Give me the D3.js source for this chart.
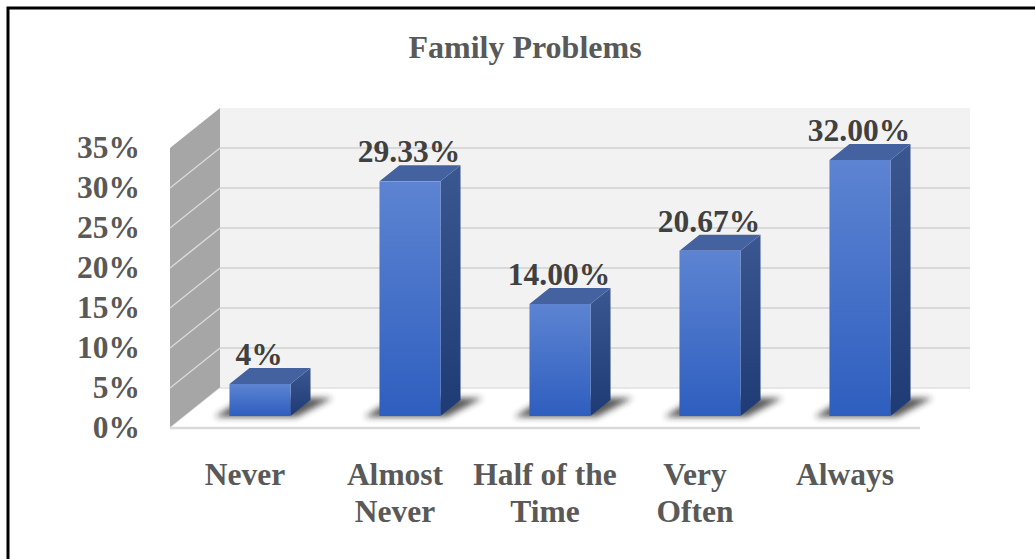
<!DOCTYPE html>
<html>
<head>
<meta charset="utf-8">
<title>Family Problems</title>
<style>
  body { margin: 0; background: #fff; }
  svg text { font-family: "Times New Roman", "Liberation Serif", serif; font-weight: bold; fill: #595959; }
</style>
</head>
<body>
<svg width="1035" height="559"></svg>
<script src="https://d3js.org/d3.v7.min.js"></script>
<script>

// chart data
const categories = ["Never", "Almost Never", "Half of the Time", "Very Often", "Always"]
const catLines = [["Never"], ["Almost", "Never"], ["Half of the", "Time"], ["Very", "Often"], ["Always"]]
const values = [0.04, 0.2933, 0.14, 0.2067, 0.32]
const valueLabels = ["4%", "29.33%", "14.00%", "20.67%", "32.00%"]
const ticks = [0, 0.05, 0.10, 0.15, 0.20, 0.25, 0.30, 0.35]

const fs = 31.5

const svg = d3.select("svg")

// outer frame (right/bottom edges fall outside the picture)
svg.append("rect")
  .attr("x", 8).attr("y", 8).attr("width", 1050).attr("height", 570)
  .attr("fill", "#fff").attr("stroke", "#000").attr("stroke-width", 3)

// front plane scales, depth vector goes back-right
const x = d3.scaleBand().domain(categories).range([170, 920]).paddingInner(0.593).paddingOuter(0.2965)
const y = d3.scaleLinear().domain([0, 0.35]).range([428, 148])
const depth = [50, -40]
const t0 = 0.3, t1 = 0.7   // bar front / back inside the depth

const defs = svg.append("defs")
const gFront = defs.append("linearGradient").attr("id", "gFront").attr("x1", 0).attr("y1", 0).attr("x2", 0).attr("y2", 1)
gFront.append("stop").attr("offset", 0).attr("stop-color", "#5d84d2")
gFront.append("stop").attr("offset", 1).attr("stop-color", "#2e5ebf")
const gSide = defs.append("linearGradient").attr("id", "gSide").attr("x1", 0).attr("y1", 0).attr("x2", 0).attr("y2", 1)
gSide.append("stop").attr("offset", 0).attr("stop-color", "#3b5792")
gSide.append("stop").attr("offset", 1).attr("stop-color", "#1f3b76")
defs.append("filter").attr("id", "blur").attr("x", -0.5).attr("y", -0.5).attr("width", 2).attr("height", 2)
  .append("feGaussianBlur").attr("stdDeviation", 3)

const pt = (px, py) => px + "," + py
const [dx, dy] = depth

// back wall
const [xl, xr] = x.range()
svg.append("rect")
  .attr("x", xl + dx).attr("y", y(0.35) + dy)
  .attr("width", xr - xl).attr("height", y(0) - y(0.35))
  .attr("fill", "#f2f2f2")

// side wall
svg.append("polygon")
  .attr("points", [pt(xl, y(0)), pt(xl, y(0.35)), pt(xl + dx, y(0.35) + dy), pt(xl + dx, y(0) + dy)].join(" "))
  .attr("fill", "#a6a6a6")

// gridlines on back and side walls
ticks.slice(1, -1).forEach(t => {
  svg.append("line")
    .attr("x1", xl + dx).attr("x2", xr + dx).attr("y1", y(t) + dy).attr("y2", y(t) + dy)
    .attr("stroke", "#d9d9d9").attr("stroke-width", 2)
  svg.append("line")
    .attr("x1", xl).attr("x2", xl + dx).attr("y1", y(t)).attr("y2", y(t) + dy)
    .attr("stroke", "#d9d9d9").attr("stroke-width", 1.5)
})
svg.append("line")
  .attr("x1", xl).attr("x2", xl + dx).attr("y1", y(0)).attr("y2", y(0) + dy)
  .attr("stroke", "#d9d9d9").attr("stroke-width", 1.5)

// floor
svg.append("polygon")
  .attr("points", [pt(xl, y(0)), pt(xr, y(0)), pt(xr + dx, y(0) + dy), pt(xl + dx, y(0) + dy)].join(" "))
  .attr("fill", "#fff")
svg.append("line")
  .attr("x1", xl + dx).attr("x2", xr + dx).attr("y1", y(0) + dy).attr("y2", y(0) + dy)
  .attr("stroke", "#e6e6e6").attr("stroke-width", 2)
svg.append("line")
  .attr("x1", xl).attr("x2", xr).attr("y1", y(0)).attr("y2", y(0))
  .attr("stroke", "#d9d9d9").attr("stroke-width", 2.5)

// y axis labels
svg.append("g").selectAll("text")
  .data(ticks)
  .join("text")
    .attr("x", 140).attr("y", d => y(d) + 10)
    .attr("text-anchor", "end").attr("font-size", fs)
    .text(d => Math.round(d * 100) + "%")

// bars
const data = categories.map((c, i) => ({c, v: values[i], label: valueLabels[i]}))
const bar = svg.append("g").selectAll("g").data(data).join("g")

bar.each(function(d) {
  const g = d3.select(this)
  const fx0 = x(d.c) + dx * t0, fx1 = fx0 + x.bandwidth()
  const fyb = y(0) + dy * t0, fyt = y(d.v) + dy * t0
  const bdx = dx * (t1 - t0), bdy = dy * (t1 - t0)
  // shadow on floor
  g.append("polygon")
    .attr("points", [pt(fx0 - 15, fyb + 1), pt(fx1 + 6, fyb + 1), pt(fx1 + 42, fyb - 18), pt(fx0 + 15, fyb - 18)].join(" "))
    .attr("fill", "#202020").attr("opacity", 0.75).attr("filter", "url(#blur)")
  // side face
  g.append("polygon")
    .attr("points", [pt(fx1, fyb), pt(fx1, fyt), pt(fx1 + bdx, fyt + bdy), pt(fx1 + bdx, fyb + bdy)].join(" "))
    .attr("fill", "url(#gSide)")
  // top face
  g.append("polygon")
    .attr("points", [pt(fx0, fyt), pt(fx1, fyt), pt(fx1 + bdx, fyt + bdy), pt(fx0 + bdx, fyt + bdy)].join(" "))
    .attr("fill", "#44629f")
  // front face
  g.append("rect")
    .attr("x", fx0).attr("y", fyt).attr("width", fx1 - fx0).attr("height", fyb - fyt)
    .attr("fill", "url(#gFront)")
  // value label
  g.append("text")
    .attr("x", (fx0 + fx1) / 2 - 1).attr("y", fyt - 19)
    .attr("text-anchor", "middle").attr("font-size", fs)
    .style("fill", "#404040")
    .text(d.label)
})

// category labels
svg.append("g").selectAll("text")
  .data(categories)
  .join("text")
    .attr("x", d => x(d) + x.bandwidth() / 2)
    .attr("y", 485)
    .attr("text-anchor", "middle").attr("font-size", fs)
    .each(function(d, i) {
      d3.select(this).selectAll("tspan").data(catLines[i]).join("tspan")
        .attr("x", x(d) + x.bandwidth() / 2)
        .attr("dy", (l, j) => j ? 37 : 0)
        .text(l => l)
    })

// title
svg.append("text")
  .attr("x", 525).attr("y", 58)
  .attr("text-anchor", "middle").attr("font-size", 32)
  .text("Family Problems")

</script>
</body>
</html>
